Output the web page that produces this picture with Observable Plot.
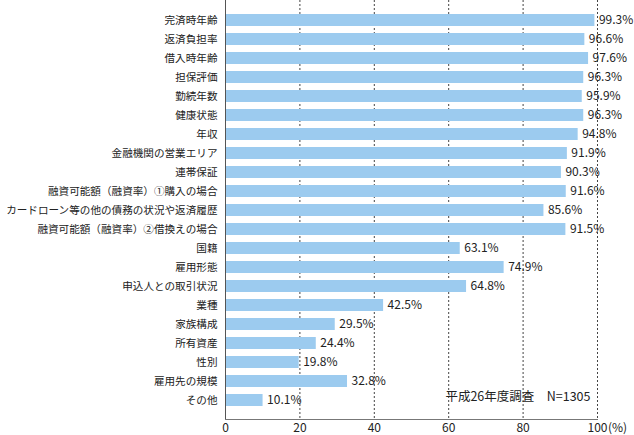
<!DOCTYPE html>
<html><head><meta charset="utf-8">
<script src="https://cdn.jsdelivr.net/npm/d3@7"></script>
<script src="https://cdn.jsdelivr.net/npm/@observablehq/plot@0.6"></script>
<style>body{margin:0;background:#fff}</style>
</head><body><div id="chart"></div>
<script>
const categories = [
  "完済時年齢","返済負担率","借入時年齢","担保評価","勤続年数","健康状態","年収",
  "金融機関の営業エリア","連帯保証","融資可能額（融資率）①購入の場合",
  "カードローン等の他の債務の状況や返済履歴","融資可能額（融資率）②借換えの場合",
  "国籍","雇用形態","申込人との取引状況","業種","家族構成","所有資産","性別","雇用先の規模","その他"
];
const values = [99.3,96.6,97.6,96.3,95.9,96.3,94.8,91.9,90.3,91.6,85.6,91.5,63.1,74.9,64.8,42.5,29.5,24.4,19.8,32.8,10.1];
const xTicks = [0,20,40,60,80,100];
const unitLabel = "(%)";
const note = "平成26年度調査　N=1305";

const data = categories.map((c, i) => ({category: c, value: values[i]}));
const font = '"Noto Sans CJK JP", "Noto Sans", sans-serif';

const chart = Plot.plot({
  width: 634, height: 435,
  marginTop: 0, marginBottom: 16, marginLeft: 225, marginRight: 37,
  style: {fontFamily: font, fontSize: "11px", color: "#222", background: "#fff"},
  x: {domain: [0, 100], ticks: xTicks},
  y: {domain: categories, paddingInner: 0.38, paddingOuter: 0.19},
  marks: [
    Plot.ruleX(xTicks.slice(1), {stroke: "#444", strokeDasharray: "2,2", strokeWidth: 1}),
    Plot.barX(data, {x: "value", y: "category", fill: "#9ccbef"}),
    Plot.frame({anchor: "left", stroke: "#555"}),
    Plot.frame({anchor: "bottom", stroke: "#777"}),
    Plot.axisY({tickSize: 0, tickPadding: 8, fontSize: 10.6, fill: "#222", label: null}),
    Plot.axisX({ticks: xTicks, tickSize: 0, tickPadding: 4, fontSize: 12, fill: "#222", label: null}),
    Plot.text([unitLabel], {x: 100, frameAnchor: "bottom", lineAnchor: "top", dy: 4, dx: 10.5, textAnchor: "start", fontSize: 12, fill: "#222"}),
    Plot.text(data, {x: "value", y: "category", text: d => d.value.toFixed(1) + "%", textAnchor: "start", dx: 4, fontSize: 12, fill: "#222"}),
    Plot.text([note], {x: 100, y: () => categories[categories.length - 1], dx: -7, dy: -4, textAnchor: "end", fontSize: 12.5, fill: "#222"})
  ]
});
document.getElementById("chart").append(chart);
</script>
</body></html>
